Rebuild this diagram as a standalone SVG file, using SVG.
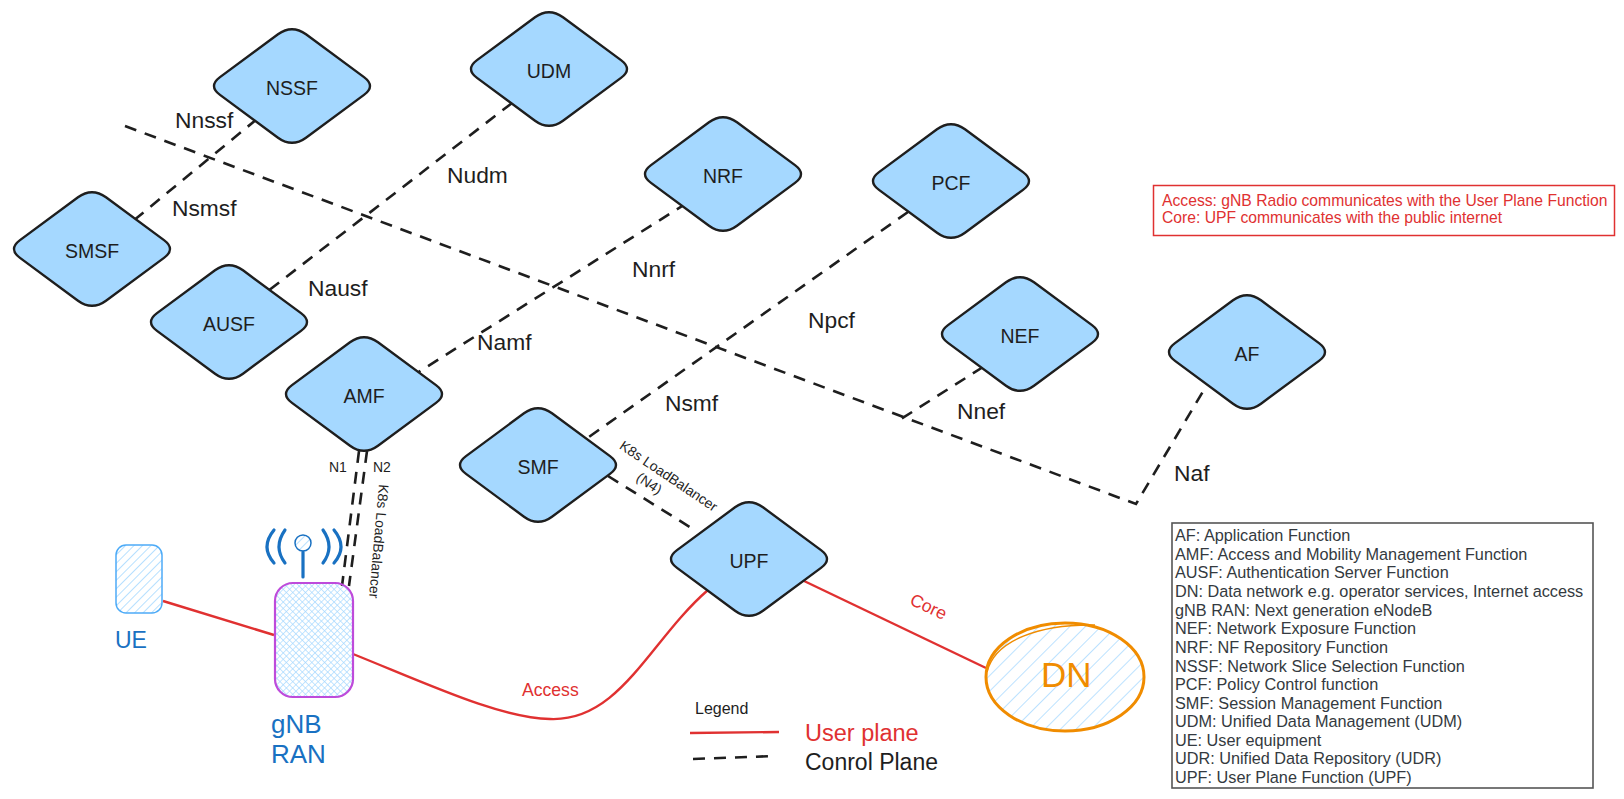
<svg xmlns="http://www.w3.org/2000/svg" width="1624" height="799" viewBox="0 0 1624 799">
<style>
text{font-family:"Liberation Sans",Arial,Helvetica,sans-serif}
.nf{fill:#a5d8ff;stroke:#1e1e1e;stroke-width:2.4;stroke-linejoin:round}
.nl{font-size:19.5px;fill:#1e1e1e;text-anchor:middle}
.il{font-size:22.8px;fill:#1e1e1e}
.sm{font-size:14px;fill:#1e1e1e}
.dash{fill:none;stroke:#1e1e1e;stroke-width:2.6;stroke-dasharray:12 9}
.red{fill:none;stroke:#e03131;stroke-width:2.4}
.rt{font-size:15.7px;fill:#e03131}
.rl{font-size:17.6px;fill:#e03131}
.blue{fill:#1971c2}
.lg{font-size:16.25px;fill:#343a40}
.ant{fill:none;stroke:#1971c2;stroke-width:3.2;stroke-linecap:round}
</style>
<defs>
<path id="dia" d="M-14,-51.700 Q0,-62 14,-51.700 L72,-8.900 Q84,0 72,8.900 L14,51.700 Q0,62 -14,51.700 L-72,8.900 Q-84,0 -72,-8.900 Z"/>
<pattern id="h1" width="6" height="6" patternUnits="userSpaceOnUse" patternTransform="rotate(45)"><line x1="0" y1="0" x2="0" y2="6" stroke="#a5d8ff" stroke-width="1.6"/></pattern>
<pattern id="h2" width="4.5" height="4.5" patternUnits="userSpaceOnUse" patternTransform="rotate(45)"><path d="M0,0V4.500M0,0H4.500" stroke="#a5d8ff" stroke-width="1.3" fill="none"/></pattern>
<pattern id="h3" width="11" height="11" patternUnits="userSpaceOnUse" patternTransform="rotate(45)"><line x1="0" y1="0" x2="0" y2="11" stroke="#a5d8ff" stroke-width="1.5"/></pattern>
</defs>
<rect width="1624" height="799" fill="#fff"/>
<g id="connectors">
<path class="dash" d="M125,126L1136,504L1208,383"/>
<path class="dash" d="M257,119L133,221"/>
<path class="dash" d="M512,103L268,291"/>
<path class="dash" d="M687,203L417,373"/>
<path class="dash" d="M908,212L586,439"/>
<path class="dash" d="M983,367L901,419"/>
<path class="dash" d="M608,476L693,529"/>
<path class="dash" d="M359,451L342,586"/>
<path class="dash" d="M367,451L349,586"/>
<path class="red" d="M163,601L274,635"/>
<path class="red" d="M353,654C430,685 500,718 550,719C620,722 650,640 708,590"/>
<path class="red" d="M802,580L986,668"/>
<path class="red" d="M690,733L779,732"/>
<path class="dash" d="M693,759L775,756"/>
</g>
<g id="NSSF"><use href="#dia" class="nf" x="292" y="86"/><text class="nl" x="292" y="95">NSSF</text></g>
<g id="UDM"><use href="#dia" class="nf" x="549" y="69"/><text class="nl" x="549" y="78">UDM</text></g>
<g id="NRF"><use href="#dia" class="nf" x="723" y="174"/><text class="nl" x="723" y="183">NRF</text></g>
<g id="PCF"><use href="#dia" class="nf" x="951" y="181"/><text class="nl" x="951" y="190">PCF</text></g>
<g id="SMSF"><use href="#dia" class="nf" x="92" y="249"/><text class="nl" x="92" y="258">SMSF</text></g>
<g id="AUSF"><use href="#dia" class="nf" x="229" y="322"/><text class="nl" x="229" y="331">AUSF</text></g>
<g id="AMF"><use href="#dia" class="nf" x="364" y="394"/><text class="nl" x="364" y="403">AMF</text></g>
<g id="NEF"><use href="#dia" class="nf" x="1020" y="334"/><text class="nl" x="1020" y="343">NEF</text></g>
<g id="AF"><use href="#dia" class="nf" x="1247" y="352"/><text class="nl" x="1247" y="361">AF</text></g>
<g id="SMF"><use href="#dia" class="nf" x="538" y="465"/><text class="nl" x="538" y="474">SMF</text></g>
<g id="UPF"><use href="#dia" class="nf" x="749" y="559"/><text class="nl" x="749" y="568">UPF</text></g>
<g id="UE"><rect x="116" y="545" width="46" height="68" rx="10" fill="url(#h1)" stroke="#4dabf7" stroke-width="1.5"/><text class="blue" x="115" y="648" font-size="23">UE</text></g>
<g id="gNB">
<rect x="275" y="583" width="78" height="114" rx="18" fill="url(#h2)" stroke="#be4bdb" stroke-width="2.2"/>
<circle cx="303" cy="543" r="8" fill="url(#h1)" stroke="#1971c2" stroke-width="1.5"/>
<path class="ant" d="M303,552V577"/>
<path class="ant" d="M274,530Q260,547 274,563M285,530Q273,547 285,563M323,530Q335,547 323,563M334,530Q348,547 334,563"/>
<text class="blue" x="271" y="733" font-size="26">gNB</text><text class="blue" x="271" y="763" font-size="26">RAN</text>
</g>
<g id="DN">
<ellipse cx="1065" cy="677" rx="79" ry="54" fill="url(#h3)" stroke="#f08c00" stroke-width="3"/>
<path d="M987,672C995,640 1040,624 1095,625" fill="none" stroke="#f08c00" stroke-width="1.5"/>
<text x="1041" y="687" font-size="35" fill="#f08c00">DN</text>
</g>
<g id="labels">
<text class="il" x="175" y="128">Nnssf</text>
<text class="il" x="172" y="216">Nsmsf</text>
<text class="il" x="447" y="183">Nudm</text>
<text class="il" x="308" y="296">Nausf</text>
<text class="il" x="632" y="277">Nnrf</text>
<text class="il" x="477" y="350">Namf</text>
<text class="il" x="808" y="328">Npcf</text>
<text class="il" x="665" y="411">Nsmf</text>
<text class="il" x="957" y="419">Nnef</text>
<text class="il" x="1174" y="481">Naf</text>
<text class="sm" x="329" y="472">N1</text>
<text class="sm" x="373" y="472">N2</text>
<text class="sm" text-anchor="middle" transform="translate(374,541) rotate(95)">K8s LoadBalancer</text>
<g transform="translate(666,480) rotate(34)"><text class="sm" text-anchor="middle">K8s LoadBalancer</text><text class="sm" text-anchor="middle" x="-12" y="17">(N4)</text></g>
<text class="rl" x="522" y="696">Access</text>
<text class="rl" text-anchor="middle" transform="translate(926,612) rotate(25)">Core</text>
<text x="695" y="714" font-size="16" fill="#1e1e1e">Legend</text>
<text x="805" y="741" font-size="23.5" fill="#e03131">User plane</text>
<text x="805" y="770" font-size="23" fill="#1e1e1e">Conrol Plane</text>
</g>
<g id="note">
<rect x="1153.500" y="185.500" width="461" height="50" fill="none" stroke="#e03131" stroke-width="1.5"/>
<text class="rt" x="1162" y="206">Access: gNB Radio communicates with the User Plane Function</text>
<text class="rt" x="1162" y="223">Core: UPF communicates with the public internet</text>
</g>
<g id="glossary">
<rect x="1172" y="523" width="421" height="265" fill="none" stroke="#555" stroke-width="1.6"/>
<text class="lg" x="1175" y="541">AF: Application Function</text>
<text class="lg" x="1175" y="560">AMF: Access and Mobility Management Function</text>
<text class="lg" x="1175" y="578">AUSF: Authentication Server Function</text>
<text class="lg" x="1175" y="597">DN: Data network e.g. operator services, Internet access</text>
<text class="lg" x="1175" y="616">gNB RAN: Next generation eNodeB</text>
<text class="lg" x="1175" y="634">NEF: Network Exposure Function</text>
<text class="lg" x="1175" y="653">NRF: NF Repository Function</text>
<text class="lg" x="1175" y="672">NSSF: Network Slice Selection Function</text>
<text class="lg" x="1175" y="690">PCF: Policy Control function</text>
<text class="lg" x="1175" y="709">SMF: Session Management Function</text>
<text class="lg" x="1175" y="727">UDM: Unified Data Management (UDM)</text>
<text class="lg" x="1175" y="746">UE: User equipment</text>
<text class="lg" x="1175" y="764">UDR: Unified Data Repository (UDR)</text>
<text class="lg" x="1175" y="783">UPF: User Plane Function (UPF)</text>
</g>
</svg>
